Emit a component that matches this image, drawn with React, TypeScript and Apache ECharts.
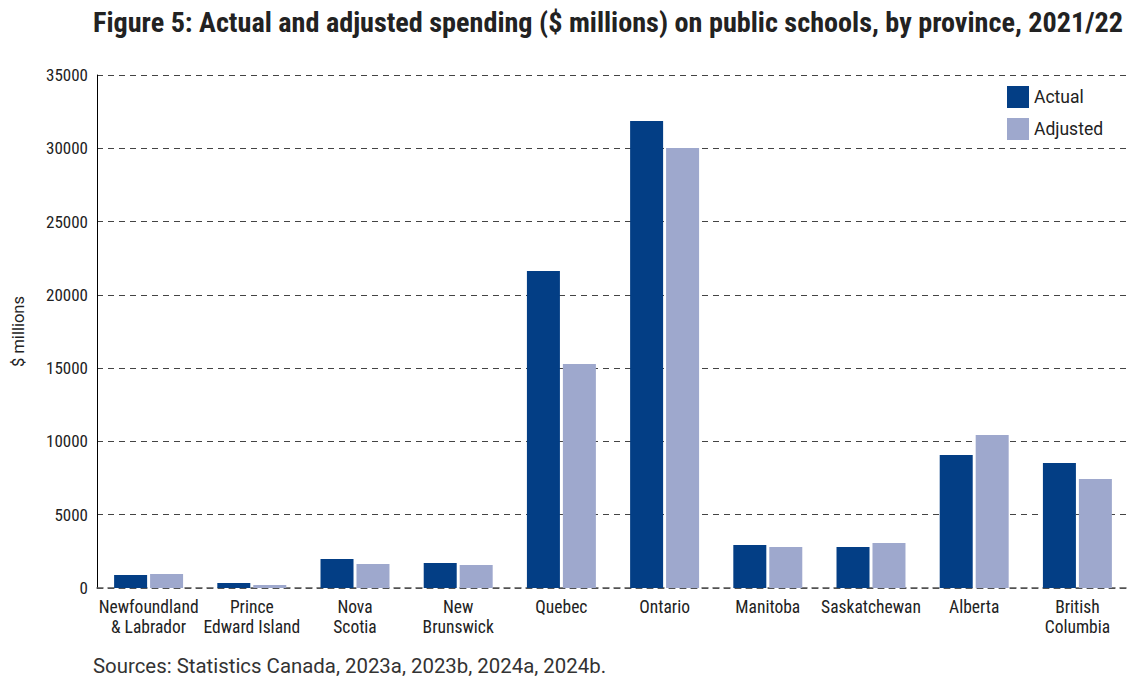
import React, { useEffect, useRef } from "react";
import * as echarts from "echarts";

const categories = [
  "Newfoundland\n& Labrador",
  "Prince\nEdward Island",
  "Nova\nScotia",
  "New\nBrunswick",
  "Quebec",
  "Ontario",
  "Manitoba",
  "Saskatchewan",
  "Alberta",
  "British\nColumbia",
];
const actual = [880, 340, 1980, 1705, 21630, 31860, 2935, 2800, 9075, 8530];
const adjusted = [950, 205, 1640, 1570, 15280, 30020, 2800, 3070, 10440, 7440];

const COND = "'Roboto Condensed', 'Liberation Sans Narrow', 'DejaVu Sans Condensed', sans-serif";
const REG = "Roboto, 'Noto Sans', sans-serif";

export default function App() {
  const ref = useRef<HTMLDivElement>(null);
  useEffect(() => {
    if (!ref.current) return;
    const chart = echarts.init(ref.current, undefined, { renderer: "svg" });
    chart.setOption({
      animation: false,
      backgroundColor: "#ffffff",
      title: {
        text: "Figure 5: Actual and adjusted spending ($ millions) on public schools, by province, 2021/22",
        left: 88,
        top: 3,
        textStyle: { fontFamily: COND, fontWeight: "bold", fontSize: 28.2, color: "#222" },
      },
      legend: {
        orient: "vertical",
        left: 1002,
        top: 81,
        itemWidth: 22,
        itemHeight: 22,
        itemGap: 10,
        icon: "rect",
        textStyle: { fontFamily: REG, fontSize: 17.5, color: "#222" },
        data: ["Actual", "Adjusted"],
      },
      grid: { left: 97, right: 1, top: 75, bottom: 93, containLabel: false },
      xAxis: {
        type: "category",
        data: categories,
        axisTick: { show: false },
        axisLine: { lineStyle: { color: "#555", type: [6, 5], width: 1.5 } },
        axisLabel: {
          fontFamily: COND,
          fontSize: 17.5,
          color: "#222",
          interval: 0,
          lineHeight: 20,
          margin: 9,
        },
      },
      yAxis: {
        type: "value",
        min: 0,
        max: 35000,
        interval: 5000,
        name: "$ millions",
        nameLocation: "middle",
        nameRotate: 90,
        nameGap: 70,
        nameTextStyle: { fontFamily: REG, fontSize: 16.5, color: "#222" },
        axisLine: { show: true, lineStyle: { color: "#000", width: 1 } },
        axisTick: { show: false },
        axisLabel: {
          fontFamily: COND,
          fontSize: 17,
          color: "#222",
          margin: 9,
          formatter: (v: number) => String(v),
        },
        splitLine: { lineStyle: { color: "#444", type: [6, 5], width: 1 } },
      },
      series: [
        {
          name: "Actual",
          type: "bar",
          data: actual,
          barWidth: 33,
          barGap: "9%",
          itemStyle: { color: "#033e85" },
        },
        {
          name: "Adjusted",
          type: "bar",
          data: adjusted,
          barWidth: 33,
          itemStyle: { color: "#9ea8cd" },
        },
      ],
      graphic: [
        {
          type: "text",
          left: 93,
          top: 656,
          style: {
            text: "Sources: Statistics Canada, 2023a, 2023b, 2024a, 2024b.",
            fontFamily: REG,
            fontSize: 20.4,
            fill: "#333",
          },
        },
      ],
    });
    return () => chart.dispose();
  }, []);
  return (
    <div
      ref={ref}
      style={{ position: "fixed", left: 0, top: 0, width: 1130, height: 681, background: "#fff" }}
    />
  );
}
